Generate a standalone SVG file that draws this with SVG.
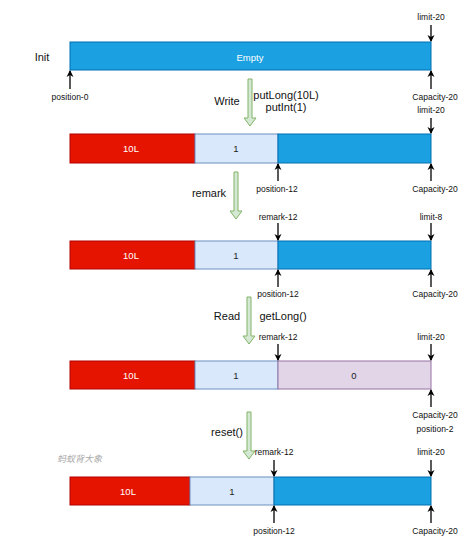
<svg xmlns="http://www.w3.org/2000/svg" width="474" height="548" viewBox="0 0 474 548">
<style>
text{font-family:"Liberation Sans",Arial,sans-serif;text-anchor:middle;dominant-baseline:central;fill:#111}
.s{font-size:8.5px}
.m{font-size:11px}
.w{fill:#ffffff;font-size:9.5px}
.n{font-size:9.5px;fill:#222}
.blue{fill:#1ba1e2;stroke:#006eaf;stroke-width:1}
.red{fill:#e51400;stroke:#b20000;stroke-width:1}
.lb{fill:#dae8fc;stroke:#6c8ebf;stroke-width:1}
.li{fill:#e1d5e7;stroke:#9673a6;stroke-width:1}
.ptr{stroke:#000;stroke-width:1.3;fill:none;marker-end:url(#ah)}
.big{fill:#d5e8d4;stroke:#82b366;stroke-width:1}
.wm{font-size:9px;fill:#aaa;font-style:italic;text-anchor:start;font-family:"Noto Sans CJK SC",sans-serif}
</style>
<defs>
<marker id="ah" markerWidth="8" markerHeight="8" refX="6" refY="4" orient="auto" markerUnits="userSpaceOnUse">
<path d="M0,0.5 L7,4 L0,7.5 L2,4 Z" fill="#000"/>
</marker>
<path id="garrow" d="M-2,0 L2,0 L2,39 L6,39 L0,47 L-6,39 L-2,39 Z"/>
</defs>

<g id="row1">
<text x="42" y="57" class="m">Init</text>
<rect x="70" y="42" width="361" height="28" class="blue"/>
<text x="250" y="57" class="w">Empty</text>
</g>

<g id="row2">
<rect x="70" y="134" width="125" height="29" class="red"/>
<rect x="195" y="134" width="83" height="29" class="lb"/>
<rect x="278" y="134" width="153" height="29" class="blue"/>
<text x="131" y="148.5" class="w">10L</text>
<text x="236" y="148.5" class="n">1</text>
</g>

<g id="row3">
<rect x="70" y="241" width="125" height="28" class="red"/>
<rect x="195" y="241" width="83" height="28" class="lb"/>
<rect x="278" y="241" width="153" height="28" class="blue"/>
<text x="131" y="255" class="w">10L</text>
<text x="236" y="255" class="n">1</text>
</g>

<g id="row4">
<rect x="70" y="361" width="125" height="28" class="red"/>
<rect x="195" y="361" width="83" height="28" class="lb"/>
<rect x="278" y="361" width="153" height="28" class="li"/>
<text x="131" y="375" class="w">10L</text>
<text x="236" y="375" class="n">1</text>
<text x="354" y="375" class="n">0</text>
</g>

<g id="row5">
<rect x="70" y="477" width="120" height="28" class="red"/>
<rect x="190" y="477" width="84" height="28" class="lb"/>
<rect x="274" y="477" width="157" height="28" class="blue"/>
<text x="128" y="491" class="w">10L</text>
<text x="232" y="491" class="n">1</text>
</g>

<g id="ops">
<use href="#garrow" x="250" y="79" class="big"/>
<text x="227" y="101" class="m">Write</text>
<text x="286" y="95" class="m">putLong(10L)</text>
<text x="286" y="107" class="m">putInt(1)</text>
<use href="#garrow" x="236" y="172" class="big"/>
<text x="209" y="193" class="m">remark</text>
<use href="#garrow" x="249" y="297" class="big"/>
<text x="227" y="316" class="m">Read</text>
<text x="283" y="316" class="m">getLong()</text>
<use href="#garrow" x="249" y="412" class="big"/>
<text x="227" y="432" class="m">reset()</text>
</g>

<g id="connectors">
<line x1="70" y1="89" x2="70" y2="71" class="ptr"/>
<line x1="431" y1="25" x2="431" y2="41" class="ptr"/>
<line x1="431" y1="89" x2="431" y2="71" class="ptr"/>
<line x1="431" y1="118" x2="431" y2="133" class="ptr"/>
<line x1="278" y1="181" x2="278" y2="164" class="ptr"/>
<line x1="431" y1="181" x2="431" y2="164" class="ptr"/>
<line x1="278" y1="223" x2="278" y2="240" class="ptr"/>
<line x1="431" y1="223" x2="431" y2="240" class="ptr"/>
<line x1="278" y1="287" x2="278" y2="270" class="ptr"/>
<line x1="431" y1="287" x2="431" y2="270" class="ptr"/>
<line x1="278" y1="344" x2="278" y2="360" class="ptr"/>
<line x1="431" y1="344" x2="431" y2="360" class="ptr"/>
<line x1="431" y1="407" x2="431" y2="390" class="ptr"/>
<line x1="274" y1="460" x2="274" y2="476" class="ptr"/>
<line x1="431" y1="460" x2="431" y2="476" class="ptr"/>
<line x1="274" y1="523" x2="274" y2="506" class="ptr"/>
<line x1="431" y1="523" x2="431" y2="506" class="ptr"/>
</g>

<g id="labels">
<text x="70" y="97" class="s">position-0</text>
<text x="431" y="17" class="s">limit-20</text>
<text x="435" y="97" class="s">Capacity-20</text>
<text x="431" y="110" class="s">limit-20</text>
<text x="277" y="189" class="s">position-12</text>
<text x="435" y="189" class="s">Capacity-20</text>
<text x="278" y="217" class="s">remark-12</text>
<text x="431" y="217" class="s">limit-8</text>
<text x="278" y="294" class="s">position-12</text>
<text x="435" y="294" class="s">Capacity-20</text>
<text x="278" y="337" class="s">remark-12</text>
<text x="431" y="337" class="s">limit-20</text>
<text x="435" y="415" class="s">Capacity-20</text>
<text x="435" y="429" class="s">position-2</text>
<text x="274" y="452" class="s">remark-12</text>
<text x="431" y="452" class="s">limit-20</text>
<text x="274" y="531" class="s">position-12</text>
<text x="435" y="531" class="s">Capacity-20</text>
<text x="57" y="458" class="wm">蚂蚁背大象</text>
</g>
</svg>
